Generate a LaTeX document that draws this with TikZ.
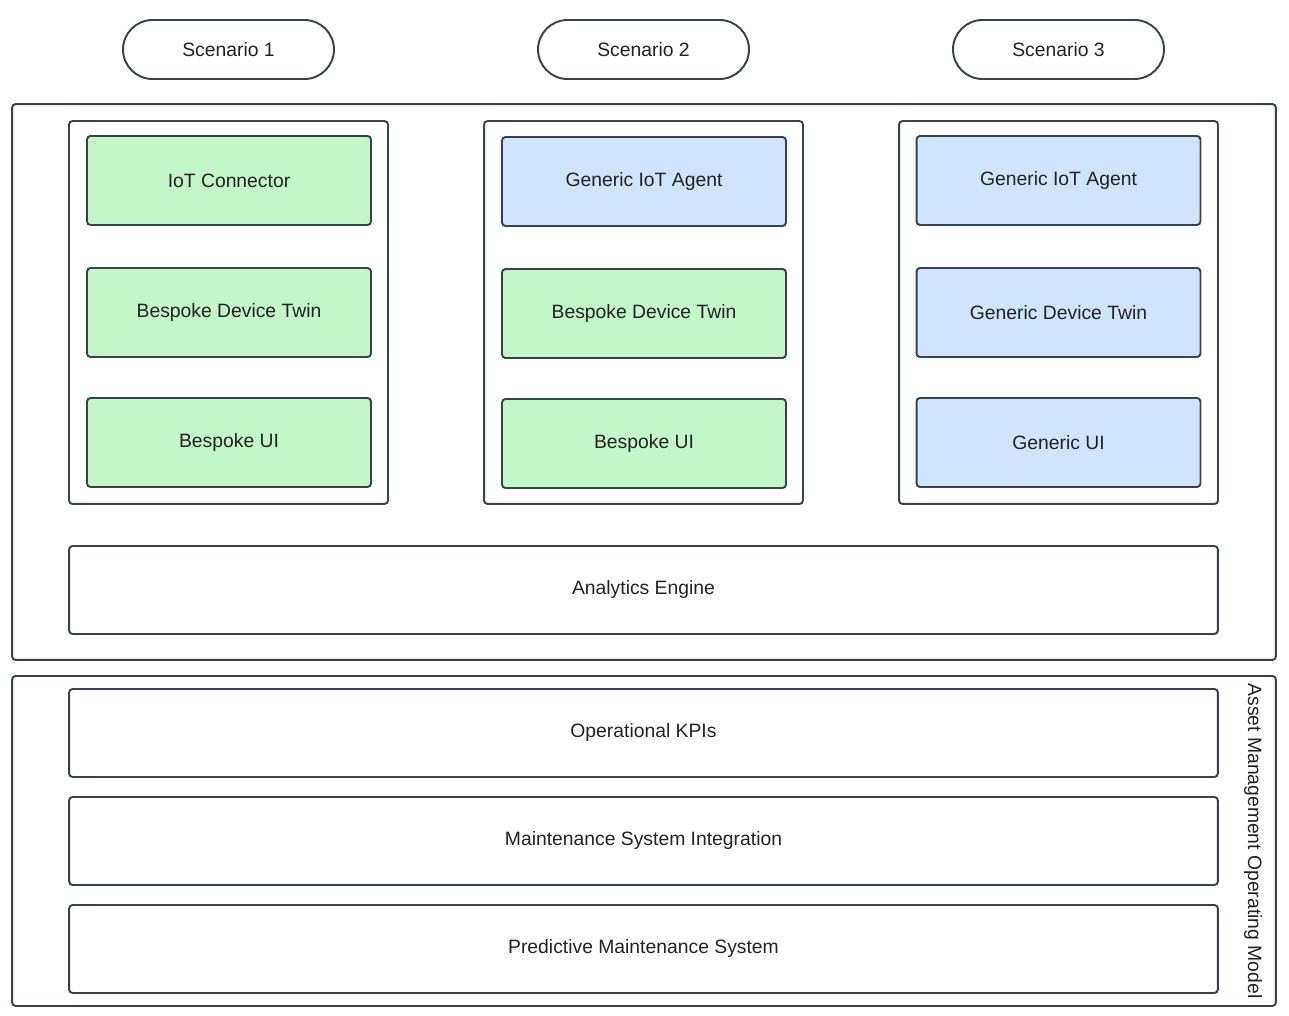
\documentclass[tikz,border=0pt]{standalone}
\usepackage{fontspec}
\setmainfont{Liberation Sans}
\usetikzlibrary{positioning}
\definecolor{edgecol}{RGB}{58,65,74}
\definecolor{bespoke}{RGB}{195,247,200}
\definecolor{generic}{RGB}{207,228,255}
\definecolor{txtcol}{RGB}{34,34,34}
\tikzset{
  every node/.append style={align=center, font=\fontsize{11}{13}\selectfont, text=txtcol},
  pill/.style={draw=edgecol, line width=1.1pt, rounded corners=0.59cm,
               minimum width=4.22cm, minimum height=1.18cm, inner sep=0pt},
  frame/.style={draw=edgecol, line width=1.1pt, rounded corners=0.07cm, inner sep=0pt},
  part/.style={frame, minimum width=5.68cm, minimum height=1.78cm},
  band/.style={frame, minimum width=22.98cm, minimum height=1.76cm},
}

\begin{document}
\begin{tikzpicture}[x=0.02cm,y=-0.02cm]
\useasboundingbox (0,0) rectangle (1289,1016);

% ── Outer layers ──────────────────────────────────────────────────────────────
\node[frame, minimum width=25.28cm, minimum height=11.12cm] (platform) at (644,382) {};
\node[frame, minimum width=25.28cm, minimum height=6.6cm] (amom) at (644,841) {};
\node[rotate=-90, anchor=center] (amomlbl) at (1253,841) {Asset Management Operating Model};

% ── Scenarios ─────────────────────────────────────────────────────────────────
\foreach \i/\x in {1/228.5, 2/643.5, 3/1058.5} {
  \node[pill] (s\i) at (\x,49.5) {Scenario \i};
  \node[frame, minimum width=6.38cm, minimum height=7.66cm] (col\i) at (\x,312.5) {};
}

% Components per scenario
\foreach \i/\x/\dy/\fa/\ta/\fb/\tb/\fc/\tc in {
  1/229/0/bespoke/IoT Connector/bespoke/Bespoke Device Twin/bespoke/Bespoke UI,
  2/644/1/generic/Generic IoT Agent/bespoke/Bespoke Device Twin/bespoke/Bespoke UI,
  3/1058.5/0/generic/Generic IoT Agent/generic/Generic Device Twin/generic/Generic UI}
{
  \node[part, fill=\fa] (c\i a) at (\x,180.5+\dy) {\ta};
  \node[part, fill=\fb] (c\i b) at (\x,312.5+\dy) {\tb};
  \node[part, fill=\fc] (c\i c) at (\x,442.5+\dy) {\tc};
}

% ── Shared layers ─────────────────────────────────────────────────────────────
\node[band] (analytics) at (643.5,590) {Analytics Engine};
\node[band] (kpis) at (643.5,733) {Operational KPIs};
\node[band] (msi) at (643.5,841) {Maintenance System Integration};
\node[band] (pms) at (643.5,949) {Predictive Maintenance System};

\end{tikzpicture}
\end{document}
